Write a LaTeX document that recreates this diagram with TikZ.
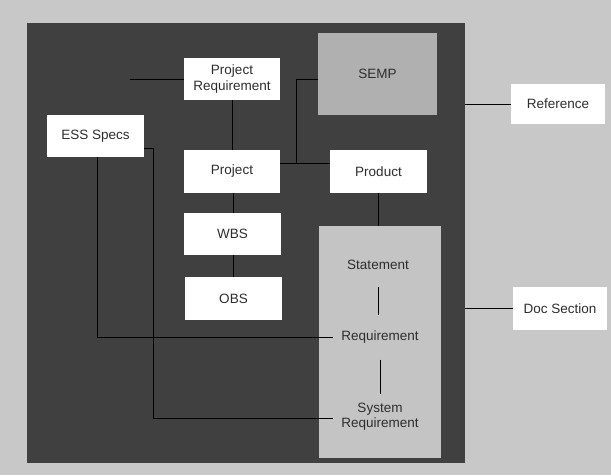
\documentclass[tikz,border=0pt]{standalone}
\usepackage{fontspec}
\setmainfont{Liberation Sans}
\definecolor{paper}{HTML}{C8C8C8}
\definecolor{panel}{HTML}{404040}
\definecolor{shade}{HTML}{B0B0B0}
\definecolor{docshade}{HTML}{C4C4C4}
\definecolor{ink}{HTML}{2E2E2E}
\tikzset{
  whitebox/.style={fill=white, text=ink, align=center, inner sep=0pt,
    minimum width=96pt, minimum height=42pt, font=\fontsize{13.5}{15.5}\selectfont},
  grayitem/.style={text=ink, align=center, inner sep=0pt,
    minimum width=94pt, minimum height=44pt, font=\fontsize{13.5}{14.5}\selectfont},
  link/.style={draw=black, line width=0.8pt}
}
\begin{document}
\begin{tikzpicture}[x=1pt, y=-1pt]
  % canvas
  \fill[paper] (0,0) rectangle (611,475);
  \useasboundingbox (0,0) rectangle (611,475);

  % dark framing panel
  \node[fill=panel, inner sep=0pt, minimum width=438pt, minimum height=440pt] (frame) at (246,243) {};

  % shaded areas
  \node[fill=shade, inner sep=0pt, minimum width=119pt, minimum height=82pt,
        text=ink, font=\fontsize{13.5}{15.5}\selectfont] (semp) at (377.5,74) {SEMP};
  \node[fill=docshade, inner sep=0pt, minimum width=122pt, minimum height=232pt] (docarea) at (380,342) {};

  % white boxes
  \node[whitebox] (prjreq) at (232,79) {Project\\Requirement};
  \node[whitebox, minimum width=97pt] (ess) at (95.5,136) {ESS Specs};
  \node[whitebox, minimum height=43pt] (project) at (232,171.5) {Project};
  \node[whitebox, minimum width=97pt] (wbs) at (232.5,234) {WBS};
  \node[whitebox, minimum width=97pt, minimum height=43pt] (obs) at (233.5,298.5) {OBS};
  \node[whitebox, minimum width=97pt, minimum height=43pt] (product) at (378.5,171.5) {Product};
  \node[whitebox, minimum width=94pt, minimum height=40pt] (reference) at (558,104) {Reference};
  \node[whitebox, minimum width=94pt, minimum height=43pt] (docsec) at (560,308.5) {Doc Section};

  % items inside the document section
  \node[grayitem] (statement) at (378,265) {Statement};
  \node[grayitem] (requirement) at (380,337.5) {Requirement};
  \node[grayitem] (sysreq) at (380,416.5) {System\\Requirement};

  % junction points
  \coordinate (prjstub) at (130,79);
  \coordinate (sempjoin) at (296,79);
  \coordinate (prodjoin) at (296,163);
  \coordinate (esscorner) at (153,148);
  \coordinate (essdrop) at (97,157);

  % connectors
  \draw[link] (prjstub) -- (prjreq.west |- prjstub);
  \draw[link] (prjreq.south) -- (project.north);
  \draw[link] (project.south -| 233,0) -- (wbs.north -| 233,0);
  \draw[link] (wbs.south -| 233,0) -- (obs.north -| 233,0);
  \draw[link] (project.east |- prodjoin) -- (product.west |- prodjoin);
  \draw[link] (semp.west |- sempjoin) -- (sempjoin) -- (prodjoin);
  \draw[link] (product.south -| 378,0) -- (docarea.north -| 378,0);
  \draw[link] (ess.east |- esscorner) -- (esscorner) |- (sysreq.west |- 0,418);
  \draw[link] (essdrop) |- (requirement.west);
  \draw[link] (statement.south) -- (requirement.north -| statement.south);
  \draw[link] (requirement.south) -- (sysreq.north);
  \draw[link] (frame.east |- reference) -- (reference.west);
  \draw[link] (frame.east |- 0,308) -- (docsec.west |- 0,308);
\end{tikzpicture}
\end{document}
